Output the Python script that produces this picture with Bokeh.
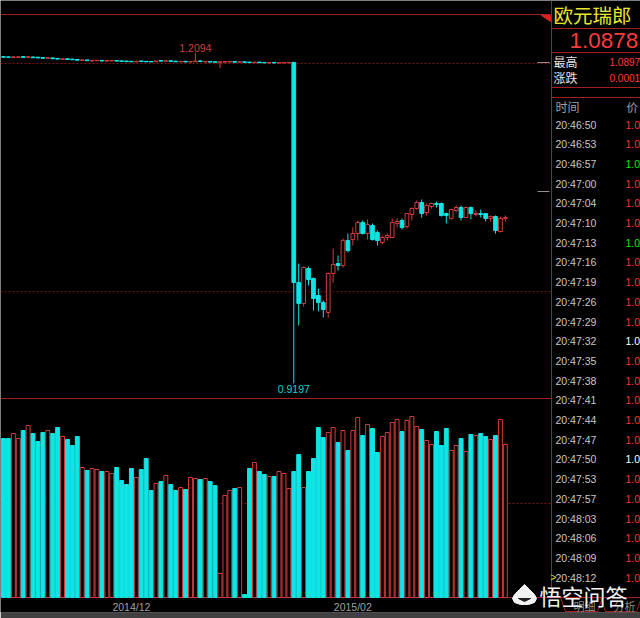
from bokeh.plotting import figure
from bokeh.models import Range1d, FixedTicker, ColumnDataSource
from bokeh.embed import file_html
from bokeh.resources import INLINE
from bokeh.core.properties import value

# ---------------- data ----------------
open_ = [1.2060, 1.2058, 1.2053, 1.2055, 1.2060, 1.2054, 1.2057, 1.2055, 1.2052, 1.2045,
         1.2049, 1.2044, 1.2037, 1.2041, 1.2038, 1.2035, 1.2027, 1.2031, 1.2022, 1.2024,
         1.2027, 1.2020, 1.2023, 1.2026, 1.2023, 1.2021, 1.2019, 1.2014, 1.2022, 1.2019,
         1.2018, 1.2015, 1.2026, 1.2019, 1.2024, 1.2020, 1.2014, 1.2019, 1.2013, 1.2015,
         1.2023, 1.2013, 1.2018, 1.2015, 1.2010, 1.2012, 1.2013, 1.2017, 1.2011, 1.2015,
         1.2012, 1.2007, 1.2012, 1.2009, 1.2004, 1.2009, 1.2004, 1.2005, 1.2006, 1.2010,
         1.0081, 0.9897, 1.0203, 1.0116, 0.9967, 0.9905, 0.9818, 1.0160, 1.0247, 1.0230,
         1.0449, 1.0457, 1.0510, 1.0606, 1.0510, 1.0580, 1.0519, 1.0431, 1.0475, 1.0475,
         1.0598, 1.0624, 1.0571, 1.0677, 1.0729, 1.0782, 1.0694, 1.0747, 1.0773, 1.0773,
         1.0685, 1.0642, 1.0712, 1.0738, 1.0650, 1.0738, 1.0677, 1.0685, 1.0685, 1.0642,
         1.0659, 1.0528, 1.0642]
high = [1.2064, 1.2061, 1.2063, 1.2062, 1.2063, 1.2066, 1.2060, 1.2058, 1.2055, 1.2055,
        1.2052, 1.2047, 1.2046, 1.2044, 1.2041, 1.2038, 1.2036, 1.2034, 1.2030, 1.2031,
        1.2030, 1.2030, 1.2031, 1.2029, 1.2026, 1.2024, 1.2022, 1.2024, 1.2025, 1.2022,
        1.2020, 1.2025, 1.2030, 1.2028, 1.2027, 1.2023, 1.2023, 1.2022, 1.2021, 1.2094,
        1.2027, 1.2022, 1.2021, 1.2018, 1.2019, 1.2020, 1.2021, 1.2020, 1.2019, 1.2018,
        1.2015, 1.2016, 1.2015, 1.2012, 1.2013, 1.2012, 1.2012, 1.2011, 1.2012, 1.2012,
        1.0247, 1.0221, 1.0221, 1.0124, 1.0028, 0.9923, 1.0168, 1.0379, 1.0317, 1.0466,
        1.0510, 1.0563, 1.0624, 1.0624, 1.0633, 1.0598, 1.0536, 1.0493, 1.0510, 1.0642,
        1.0642, 1.0642, 1.0685, 1.0738, 1.0799, 1.0808, 1.0773, 1.0782, 1.0790, 1.0782,
        1.0694, 1.0729, 1.0755, 1.0755, 1.0747, 1.0747, 1.0712, 1.0720, 1.0685, 1.0668,
        1.0668, 1.0659, 1.0668]
low = [1.2052, 1.2051, 1.2050, 1.2052, 1.2051, 1.2051, 1.2048, 1.2046, 1.2043, 1.2042,
       1.2039, 1.2036, 1.2034, 1.2033, 1.2030, 1.2026, 1.2024, 1.2022, 1.2019, 1.2021,
       1.2019, 1.2017, 1.2020, 1.2018, 1.2015, 1.2013, 1.2012, 1.2011, 1.2014, 1.2012,
       1.2011, 1.2012, 1.2018, 1.2016, 1.2016, 1.2012, 1.2011, 1.2011, 1.2010, 1.2012,
       1.2014, 1.2010, 1.2010, 1.2008, 1.1960, 1.2009, 1.2010, 1.2009, 1.2008, 1.2007,
       1.2005, 1.2005, 1.2004, 1.2003, 1.2002, 1.2002, 1.2002, 1.2002, 1.2003, 0.9197,
       0.9704, 0.9870, 1.0054, 0.9835, 0.9827, 0.9774, 0.9774, 1.0081, 1.0186, 1.0212,
       1.0344, 1.0405, 1.0449, 1.0501, 1.0457, 1.0449, 1.0405, 1.0414, 1.0449, 1.0470,
       1.0563, 1.0545, 1.0554, 1.0624, 1.0720, 1.0650, 1.0668, 1.0729, 1.0738, 1.0659,
       1.0598, 1.0633, 1.0694, 1.0624, 1.0650, 1.0633, 1.0659, 1.0650, 1.0615, 1.0615,
       1.0510, 1.0519, 1.0615]
close = [1.2055, 1.2054, 1.2059, 1.2058, 1.2054, 1.2060, 1.2051, 1.2049, 1.2046, 1.2051,
         1.2042, 1.2039, 1.2042, 1.2036, 1.2033, 1.2029, 1.2032, 1.2025, 1.2027, 1.2028,
         1.2022, 1.2026, 1.2027, 1.2021, 1.2018, 1.2016, 1.2015, 1.2020, 1.2017, 1.2015,
         1.2014, 1.2021, 1.2021, 1.2024, 1.2019, 1.2015, 1.2019, 1.2014, 1.2017, 1.2021,
         1.2017, 1.2018, 1.2013, 1.2011, 1.2015, 1.2016, 1.2017, 1.2012, 1.2015, 1.2010,
         1.2008, 1.2012, 1.2007, 1.2006, 1.2009, 1.2005, 1.2008, 1.2008, 1.2010, 1.0081,
         0.9897, 1.0212, 1.0107, 0.9940, 0.9905, 0.9844, 1.0160, 1.0238, 1.0230, 1.0449,
         1.0361, 1.0510, 1.0606, 1.0510, 1.0589, 1.0457, 1.0449, 1.0475, 1.0493, 1.0606,
         1.0615, 1.0563, 1.0685, 1.0729, 1.0782, 1.0685, 1.0755, 1.0773, 1.0764, 1.0668,
         1.0668, 1.0720, 1.0738, 1.0650, 1.0738, 1.0685, 1.0685, 1.0677, 1.0642, 1.0659,
         1.0536, 1.0642, 1.0650]
volume = [159, 159, 164, 159, 167, 172, 164, 156, 165, 167,
          164, 170, 161, 158, 152, 161, 130, 127, 129, 128,
          126, 126, 124, 130, 117, 113, 129, 120, 128, 139,
          107, 114, 116, 122, 113, 107, 110, 108, 120, 119,
          118, 119, 116, 112, 24, 102, 107, 109, 110, 3,
          129, 135, 126, 123, 121, 121, 126, 124, 109, 126,
          143, 110, 126, 139, 170, 160, 165, 170, 155, 167,
          147, 167, 180, 162, 173, 169, 145, 161, 165, 175,
          178, 166, 177, 181, 171, 168, 157, 153, 166, 152,
          169, 147, 152, 159, 146, 163, 162, 164, 161, 158,
          162, 178, 153]
tick_positions = [27, 72]
tick_labels = ["2014/12", "2015/02"]
parity_level = 1.00
peg_level = 1.20
volume_mid = 94

instrument = "欧元瑞郎"
last_price = "1.0878"
day_high_label = "最高"
day_high = "1.0897"
change_label = "涨跌"
change = "0.0001"
header_time = "时间"
header_price = "价"
trade_times = ["20:46:50", "20:46:53", "20:46:57", "20:47:00", "20:47:04", "20:47:10",
               "20:47:13", "20:47:16", "20:47:19", "20:47:26", "20:47:29", "20:47:32",
               "20:47:35", "20:47:38", "20:47:41", "20:47:44", "20:47:47", "20:47:50",
               "20:47:53", "20:47:57", "20:48:03", "20:48:06", "20:48:09", "20:48:12"]
trade_prices = ["1.0"] * 24
trade_dirs = ["up", "up", "down", "up", "up", "up", "down", "up", "up", "up", "up", "flat",
              "up", "up", "up", "up", "up", "flat", "up", "up", "up", "up", "up", "up"]
watermark = "悟空问答"
tabs = ["明细", "分析"]

# ---------------- layout constants (reference pixels) ----------------
W, H = 640, 618
STRIP = 6
ref_bottom = H - STRIP

STEP, X0 = 4.92, 3.0
PPU, P_REF, Y_REF = 1141.0, 1.20, 63.0
VOL_ZERO = 597.0


def idx_at(xr):
    return 1 + (xr - X0) / STEP


def price_at(yr):
    return P_REF - (yr - Y_REF) / PPU


def fs(n):
    return f"{n:.1f}px"


CYAN = "#10e4e4"
RED = "#d23c3c"
LINE_RED = "#a41e1e"
DASH_RED = "#7c1818"
BG = "#000000"

p = figure(width=W, height=H, output_backend="svg", toolbar_location=None,
           x_range=Range1d(idx_at(0), idx_at(W)),
           y_range=Range1d(price_at(ref_bottom), price_at(0)),
           y_axis_location=None, min_border_left=0, min_border_right=0,
           min_border_top=0, min_border_bottom=STRIP,
           background_fill_color=BG, border_fill_color="#404040", outline_line_color=None)
p.extra_y_ranges = {"vol": Range1d(VOL_ZERO - ref_bottom, VOL_ZERO),
                    "py": Range1d(ref_bottom, 0)}
p.extra_x_ranges = {"px": Range1d(0, W)}
p.grid.visible = False

ax = p.xaxis[0]
ax.ticker = FixedTicker(ticks=tick_positions)
ax.major_label_overrides = {t: l for t, l in zip(tick_positions, tick_labels)}
ax.axis_line_color = None
ax.major_tick_line_color = None
ax.major_tick_out = 0
ax.major_tick_in = 0
ax.minor_tick_line_color = None
ax.major_label_standoff = -12
ax.major_label_text_color = "#a0a0a0"
ax.major_label_text_font = "Liberation Sans"
ax.major_label_text_font_size = fs(10.5)

# chrome lines
px = dict(x_range_name="px", y_range_name="py")
frame_lines = dict(x0=[0, 551, 0, 0, 551, 551, 551, 551],
                   y0=[14, 0, 398, 597, 28, 52, 87, 97],
                   x1=[551, 551, 551, 640, 640, 640, 640, 640],
                   y1=[14, 597, 398, 597, 28, 52, 87, 97])
p.segment(source=ColumnDataSource(frame_lines), x0="x0", y0="y0", x1="x1", y1="y1",
          line_color=LINE_RED, line_width=1, **px)

# dashed reference levels
p.segment(x0=[0, 0], x1=[551, 551], y0=[peg_level, parity_level], y1=[peg_level, parity_level],
          x_range_name="px", line_color=DASH_RED, line_dash="2 2", line_width=1)
p.segment(x0=[0], x1=[551], y0=[volume_mid], y1=[volume_mid], x_range_name="px",
          y_range_name="vol", line_color=DASH_RED, line_dash="2 2", line_width=1)

# candles
n = len(close)
idx = list(range(1, n + 1))
up = [c >= o for o, c in zip(open_, close)]
col = [RED if u else CYAN for u in up]
fill = [BG if u else CYAN for u in up]
src = ColumnDataSource(dict(i=idx, o=open_, h=high, l=low, c=close,
                            top=[max(a, b) for a, b in zip(open_, close)],
                            bot=[min(a, b) for a, b in zip(open_, close)],
                            col=col, fill=fill, vol=volume))
p.segment(x0="i", y0="l", x1="i", y1="h", line_color="col", line_width=1, source=src)
p.vbar(x="i", width=0.76, top="top", bottom="bot", fill_color="fill", line_color="col",
       line_width=1, source=src)

# volume bars
p.vbar(x="i", width=0.8, top="vol", bottom=0, fill_color="fill", line_color="col",
       line_width=1, source=src, y_range_name="vol")

# high / low annotations
hi_i = high.index(max(high)) + 1
lo_i = low.index(min(low)) + 1
p.text(x=[hi_i], y=[max(high)], text=[f"{max(high):.4f}"], text_color=RED,
       text_font=value("Liberation Sans"), text_font_size=fs(10.5),
       text_align="center", text_baseline="bottom", y_offset=-1)
p.text(x=[lo_i], y=[min(low)], text=[f"{min(low):.4f}"], text_color="#20d0d0",
       text_font=value("Liberation Sans"), text_font_size=fs(10.5),
       text_align="center", text_baseline="top", y_offset=2)

# small markers at the right edge of the chart
p.segment(x0=[537, 537], x1=[549, 549], y0=[62, 191], y1=[62, 191],
          line_color="#909090", line_width=1, **px)
p.patch(x=[541, 550, 550], y=[15, 15, 21], fill_color="#e02020", line_color="#e02020", **px)

# ---------------- right panel ----------------
CJK = "Noto Sans CJK SC"
SANS = "Liberation Sans"


def ptext(x, y, t, color, size, font, align="left"):
    p.text(x=x, y=y, text=t, text_color=color, text_font=value(font), text_font_size=fs(size),
           text_align=align, text_baseline="middle", **px)


ptext([553], [14], [instrument], "#e8e830", 19.5, CJK)
ptext([569], [40], [last_price], "#ff3c3c", 22.5, SANS)
ptext([553, 553], [61, 77], [day_high_label, change_label], "#e6e6e6", 12, CJK)
ptext([609, 609], [61, 77], [day_high, change], "#ff3c3c", 10, SANS)
ptext([555], [106], [header_time], "#a0a0a0", 12, CJK)
ptext([626], [106], [header_price], "#a0a0a0", 11.5, CJK)

row_y = [124 + 19.7 * k for k in range(len(trade_times))]
ptext([555] * len(trade_times), row_y, trade_times, "#c8c8c8", 10.5, SANS)
dir_col = {"up": "#ff3232", "down": "#10e010", "flat": "#ffffff"}
p.text(x=[625] * len(trade_prices), y=row_y, text=trade_prices,
       text_color=[dir_col[d] for d in trade_dirs], text_font=value(SANS),
       text_font_size=fs(10.5), text_align="left", text_baseline="middle", **px)
ptext([550], [row_y[-1]], [">"], "#f0e020", 10, SANS)

# bottom tabs (mostly hidden by the watermark)
p.patches(xs=[[560, 565, 597, 602], [600, 605, 636, 641]],
          ys=[[597, 611, 611, 597], [597, 611, 611, 597]],
          fill_color=None, line_color=LINE_RED, line_width=1, **px)
ptext([573, 613], [605, 605], tabs, "#909090", 11, CJK)

# watermark (logo + text)
p.patch(x=[524, 519, 514, 512, 514, 520, 528, 534, 536, 534, 529],
        y=[584, 589, 594, 598, 602, 604, 604, 602, 598, 594, 589],
        fill_color="#f2f2f2", line_color="#f2f2f2", **px)
p.patch(x=[518, 524, 530], y=[598, 601, 598], fill_color="#202020", line_color="#202020", **px)
ptext([539], [594], [watermark], "#f2f2f2", 22, CJK)

open("out.html", "w").write(file_html(p, INLINE))
